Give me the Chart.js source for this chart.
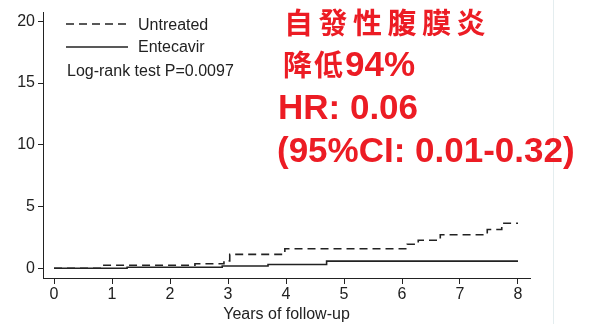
<!DOCTYPE html>
<html>
<head>
<meta charset="utf-8">
<script src="https://cdn.jsdelivr.net/npm/chart.js@4"></script>
<style>
  html, body { margin: 0; padding: 0; background: #fff; }
  #wrap { position: relative; width: 593px; height: 324px; overflow: hidden; }
  canvas { position: absolute; left: 0; top: 0; }
  .t { position: absolute; white-space: nowrap; line-height: 1; }
  .leg { font-family: "Liberation Sans", Arial, sans-serif; font-size: 16px; color: #222; }
  .red { color: #ec1c24; }
  .cjk { font-family: "Noto Sans CJK TC", "Noto Sans CJK SC", sans-serif; font-weight: 700; font-size: 29px; }
  .lat { font-family: "Liberation Sans", Arial, sans-serif; font-weight: 700; font-size: 35px; }
  #edge { position: absolute; left: 553px; top: 0; width: 1px; height: 324px; background: #e4edef; }
</style>
</head>
<body>
<div id="wrap">
  <canvas id="c" width="593" height="324"></canvas>
  <div id="edge"></div>
  <svg class="t" style="left:66px;top:18px" width="64" height="12"><line x1="0" y1="6" x2="62" y2="6" stroke="#222" stroke-width="1.6" stroke-dasharray="8,5"/></svg>
  <svg class="t" style="left:66px;top:41px" width="64" height="12"><line x1="0" y1="6" x2="62" y2="6" stroke="#222" stroke-width="1.6"/></svg>
  <div class="t leg" style="left:138px;top:17px">Untreated</div>
  <div class="t leg" style="left:138px;top:39px">Entecavir</div>
  <div class="t leg" style="left:67px;top:63px">Log-rank test P=0.0097</div>
  <div class="t red cjk" style="left:284px;top:7px;letter-spacing:5.5px">自發性腹膜炎</div>
  <div class="t red" style="left:283px;top:46px"><span class="cjk" style="letter-spacing:2px">降低</span><span class="lat">94%</span></div>
  <div class="t red lat" style="left:278px;top:89px">HR: 0.06</div>
  <div class="t red lat" style="left:277px;top:132px">(95%CI: 0.01-0.32)</div>
</div>
<script>
const xTicks = [0, 1, 2, 3, 4, 5, 6, 7, 8];
const yTicks = [0, 5, 10, 15, 20];
const untreatedT = [0, 0.81, 2.43, 2.93, 3.03, 3.98, 6.09, 6.28, 6.66, 7.47, 7.72, 8.0];
const untreatedV = [0, 0.24, 0.37, 0.6, 1.12, 1.58, 1.95, 2.27, 2.71, 3.14, 3.64, 3.64];
const entecavirT = [0, 1.26, 2.9, 3.69, 4.7, 8.0];
const entecavirV = [0, 0.08, 0.18, 0.3, 0.58, 0.58];
const xTitle = 'Years of follow-up';

const pts = (t, v) => t.map((x, i) => ({ x: x, y: v[i] }));
const FONT = { family: '"Liberation Sans", Arial, sans-serif', size: 16 };

new Chart(document.getElementById('c'), {
  type: 'line',
  data: {
    datasets: [
      { label: 'Untreated', data: pts(untreatedT, untreatedV), stepped: 'before',
        borderColor: '#222', borderWidth: 1.6, borderDash: [8, 5], pointRadius: 0, fill: false },
      { label: 'Entecavir', data: pts(entecavirT, entecavirV), stepped: 'before',
        borderColor: '#222', borderWidth: 1.6, pointRadius: 0, fill: false }
    ]
  },
  options: {
    responsive: false,
    animation: false,
    events: [],
    layout: { padding: { left: 0, right: 63, top: 6, bottom: 0 } },
    plugins: { legend: { display: false }, tooltip: { enabled: false } },
    scales: {
      x: {
        type: 'linear', min: -0.19, max: 8.207,
        afterFit: s => { s.height = 46; },
        afterBuildTicks: s => { s.ticks = xTicks.map(v => ({ value: v })); },
        ticks: { font: FONT, color: '#222', padding: 1, maxRotation: 0, autoSkip: false },
        grid: { drawOnChartArea: false, drawTicks: true, tickLength: 6, color: '#222', lineWidth: 1 },
        border: { display: true, color: '#222', width: 1 },
        title: { display: true, text: xTitle, font: FONT, color: '#222', padding: { top: -3, bottom: 0 } }
      },
      y: {
        type: 'linear', min: -0.79, max: 20.71,
        afterFit: s => { s.width = 43; },
        afterBuildTicks: s => { s.ticks = yTicks.map(v => ({ value: v })); },
        ticks: { font: FONT, color: '#222', padding: 3, autoSkip: false },
        grid: { drawOnChartArea: false, drawTicks: true, tickLength: 5, color: '#222', lineWidth: 1 },
        border: { display: true, color: '#222', width: 1 }
      }
    }
  }
});
</script>
</body>
</html>
